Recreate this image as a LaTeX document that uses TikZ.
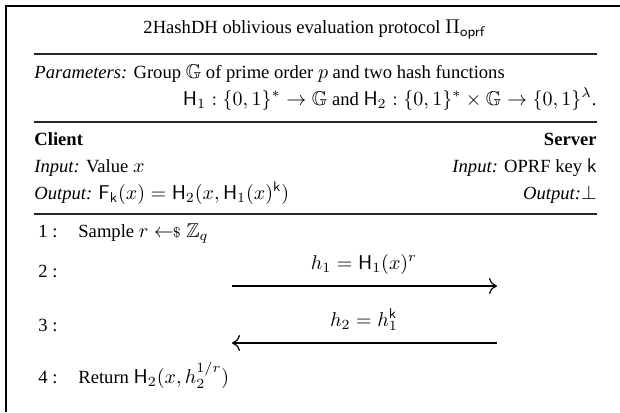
\documentclass[tikz,border=0pt]{standalone}
\usepackage{amsmath,amssymb}
\usepackage[no-math]{fontspec}
\setmainfont{Liberation Serif}[Scale=0.93]
\usetikzlibrary{arrows.meta, positioning}
\newcommand{\Hsh}[1]{\mathsf{H}_{#1}}
\newcommand{\oprfkey}{\mathsf{k}}
\newcommand{\samplefrom}{\leftarrow\!\!{\scriptstyle\$}\;}
\tikzset{
  framerule/.style={line width=0.8pt, black},
  seprule/.style={line width=0.6pt, black!85},
  leftline/.style={anchor=base west, inner sep=0pt},
  rightline/.style={anchor=base east, inner sep=0pt},
  msglabel/.style={anchor=base, inner sep=0pt},
  msgarrow/.style={-{To[length=4pt, width=8pt]}, line width=0.6pt},
}

\begin{document}
\begin{tikzpicture}[x=0.5pt, y=-0.5pt, font=\fontsize{10}{12}\selectfont]
  \useasboundingbox (0,0) rectangle (620,412);
  % frame and rules
  \draw[framerule] (620,6) -- (6,6) -- (6,412);
  \draw[seprule] (34,54) -- (597,54);
  \draw[seprule] (34,122) -- (597,122);
  \draw[seprule] (34,214) -- (597,214);

  \node[msglabel] (title) at (315,33) {2HashDH oblivious evaluation protocol $\Pi_{\mathsf{oprf}}$};
  \node[leftline] (params) at (34,78)
    {\textit{Parameters:} Group $\mathbb{G}$ of prime order $p$ and two hash functions};
  \node[rightline] (hashes) at (597,105)
    {$\Hsh{1} : \{0,1\}^* \rightarrow \mathbb{G}$ and $\Hsh{2} : \{0,1\}^* \times \mathbb{G} \rightarrow \{0,1\}^{\lambda}$.};

  \node[leftline] (client) at (34,145) {\textbf{Client}};
  \node[rightline] (server) at (597,145) {\textbf{Server}};
  \node[leftline] (cinput) at (34,172) {\textit{Input:} Value $x$};
  \node[rightline] (sinput) at (597,172) {\textit{Input:} OPRF key $\oprfkey$};
  \node[leftline] (coutput) at (34,199)
    {\textit{Output:} $\mathsf{F}_{\oprfkey}(x) = \Hsh{2}(x, \Hsh{1}(x)^{\oprfkey})$};
  \node[rightline] (soutput) at (597,199) {\textit{Output:}$\perp$};

  % protocol steps
  \node[leftline] (step1) at (38,237) {1 :};
  \node[leftline] (sample) at (78,237) {Sample $r \samplefrom \mathbb{Z}_q$};
  \node[leftline] (step2) at (38,277) {2 :};
  \coordinate (msgA) at (232,286);
  \coordinate (msgB) at (497,286);
  \node[msglabel] (hone) at (364,269) {$h_1 = \Hsh{1}(x)^r$};
  \draw[msgarrow] (msgA) -- (msgB);
  \node[leftline] (step3) at (38,331) {3 :};
  \coordinate (msgC) at (497,343);
  \coordinate (msgD) at (232,343);
  \node[msglabel] (htwo) at (364,326) {$h_2 = h_1^{\oprfkey}$};
  \draw[msgarrow] (msgC) -- (msgD);
  \node[leftline] (step4) at (38,383) {4 :};
  \node[leftline] (return) at (78,383) {Return $\Hsh{2}(x, h_2^{1/r})$};
\end{tikzpicture}
\end{document}
